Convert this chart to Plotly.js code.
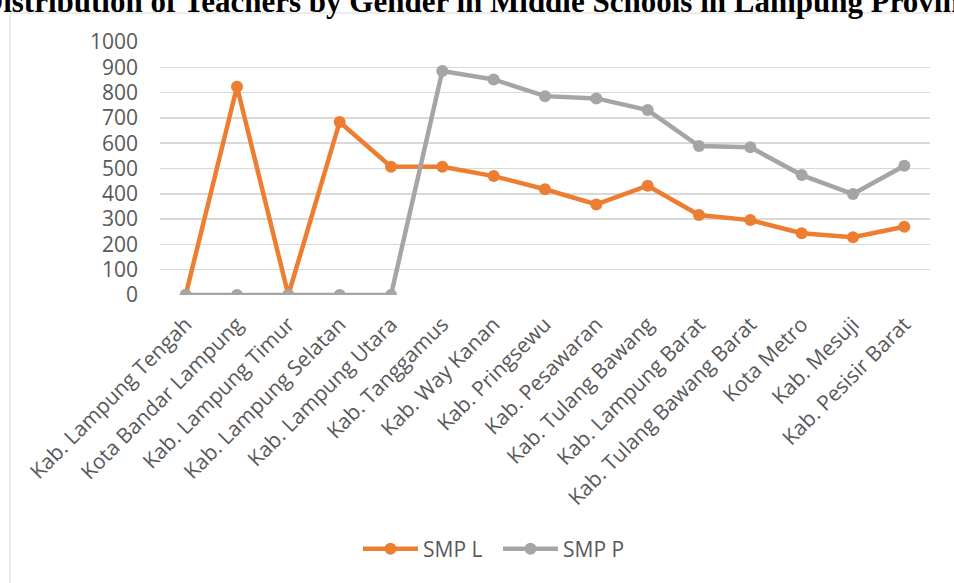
<!DOCTYPE html>
<html>
<head>
<meta charset="utf-8">
<script src="https://cdn.plot.ly/plotly-3.0.1.min.js"></script>
<style>html,body{margin:0;padding:0;background:#fff;}#chart{width:954px;height:583px;}</style>
</head>
<body>
<div id="chart"></div>
<script>
const categories = ["Kab. Lampung Tengah","Kota Bandar Lampung","Kab. Lampung Timur","Kab. Lampung Selatan","Kab. Lampung Utara","Kab. Tanggamus","Kab. Way Kanan","Kab. Pringsewu","Kab. Pesawaran","Kab. Tulang Bawang","Kab. Lampung Barat","Kab. Tulang Bawang Barat","Kota Metro","Kab. Mesuji","Kab. Pesisir Barat"];
const smpL = [0, 823, 0, 684, 507, 507, 470, 418, 358, 432, 316, 296, 244, 228, 270];
const smpP = [0, 0, 0, 0, 0, 885, 852, 786, 777, 731, 589, 584, 474, 399, 511];
const yTicks = [0,100,200,300,400,500,600,700,800,900,1000];
const titleText = "Distribution of Teachers by Gender in Middle Schools in Lampung Province";

const L = 160, R = 24, T = 42, B = 288, W = 954, H = 583;
const pw = W - L - R, ph = H - T - B;
const px2x = p => (p - L) / pw;
const py2y = p => (H - B - p) / ph;

const traces = [
  {x: categories, y: smpL, name: "SMP L", type: "scatter", mode: "lines+markers", legend: "legend",
   line: {color: "#ED7D31", width: 4.5}, marker: {color: "#ED7D31", size: 12}},
  {x: categories, y: smpP, name: "SMP P", type: "scatter", mode: "lines+markers", legend: "legend2",
   line: {color: "#A5A5A5", width: 4.5}, marker: {color: "#A5A5A5", size: 12}}
];

const legendFont = {size: 21, color: "#595959"};
const layout = {
  width: W, height: H,
  margin: {l: L, r: R, t: T, b: B},
  paper_bgcolor: "#fff", plot_bgcolor: "#fff",
  font: {family: "Open Sans, sans-serif", color: "#595959"},
  title: {text: titleText, font: {family: "Liberation Serif, serif", size: 31, color: "#000", weight: "bold"},
          x: px2x(484), xref: "paper", xanchor: "center", yref: "container", y: 0.998, yanchor: "middle"},
  xaxis: {type: "category", range: [-0.5, 14.5], tickangle: -45, showgrid: false, zeroline: false,
          showline: false, ticks: "", tickfont: {size: 21, color: "#595959"}, ticklabelstandoff: 12},
  yaxis: {range: [0, 1000], tickvals: yTicks, ticktext: yTicks.map(String), showgrid: true,
          gridcolor: "#D9D9D9", gridwidth: 1.5, zeroline: false, showline: false, ticks: "",
          tickfont: {size: 21, color: "#595959"}, ticklabelstandoff: 21},
  showlegend: true,
  legend: {orientation: "h", x: px2x(358), xanchor: "left", y: py2y(549), yanchor: "middle", itemwidth: 55,
           font: legendFont, bgcolor: "rgba(0,0,0,0)"},
  legend2: {orientation: "h", x: px2x(498), xanchor: "left", y: py2y(549), yanchor: "middle", itemwidth: 55,
           font: legendFont, bgcolor: "rgba(0,0,0,0)"},
  shapes: [{type: "rect", xref: "paper", yref: "paper", x0: px2x(10), x1: px2x(1000), y0: py2y(620), y1: py2y(13),
            line: {color: "#D9D9D9", width: 1}, fillcolor: "rgba(0,0,0,0)", layer: "below"}]
};

Plotly.newPlot("chart", traces, layout, {staticPlot: true, displayModeBar: false});
</script>
</body>
</html>
